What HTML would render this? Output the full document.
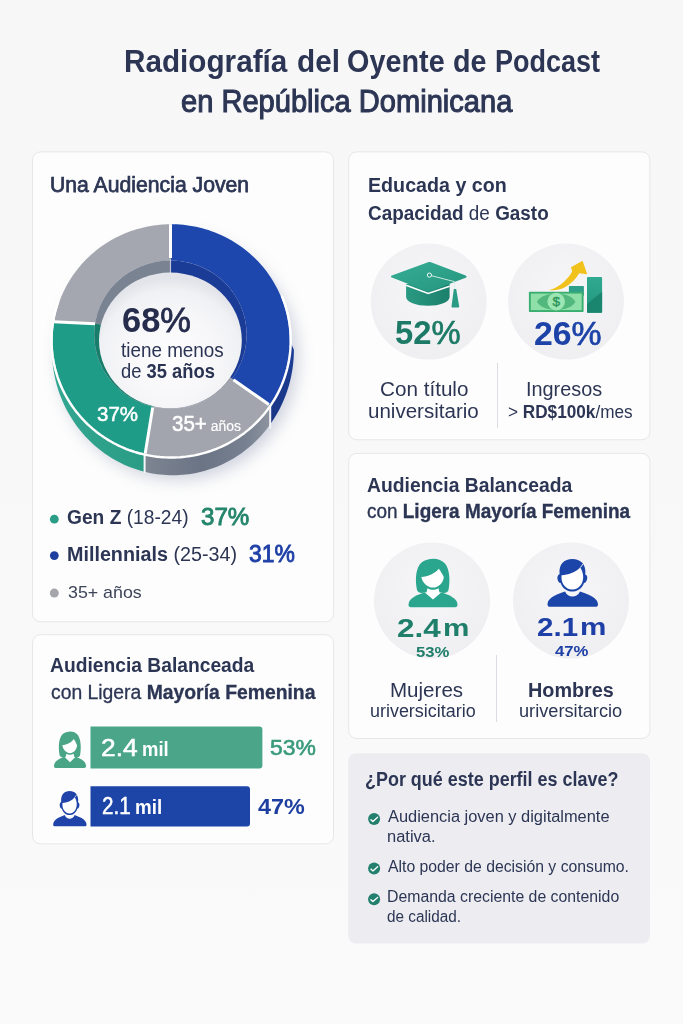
<!DOCTYPE html>
<html><head><meta charset="utf-8"><style>
html,body{margin:0;padding:0;}
body{width:683px;height:1024px;overflow:hidden;background:linear-gradient(#f7f7f8,#f8f8f9 40%,#fafafb);position:relative;font-family:"Liberation Sans",sans-serif;}
svg.bg{position:absolute;left:0;top:0;}
.t{position:absolute;white-space:nowrap;line-height:1;transform-origin:0 0;}
</style></head><body>
<svg class="bg" width="683" height="1024" viewBox="0 0 683 1024">
<rect x="32.50" y="151.90" width="301.00" height="469.90" rx="8" fill="#fdfdfd" stroke="#e6e7eb" stroke-width="1"/>
<rect x="32.50" y="634.70" width="301.00" height="209.20" rx="8" fill="#fdfdfd" stroke="#e6e7eb" stroke-width="1"/>
<rect x="348.70" y="151.90" width="301.20" height="287.90" rx="8" fill="#fdfdfd" stroke="#e6e7eb" stroke-width="1"/>
<rect x="348.70" y="453.40" width="301.20" height="285.10" rx="8" fill="#fdfdfd" stroke="#e6e7eb" stroke-width="1"/>
<rect x="348.2" y="753.2" width="301.8" height="190.3" rx="8" fill="#ededf1"/>
<defs>
<filter id="dsh" x="-40%" y="-40%" width="180%" height="180%"><feGaussianBlur stdDeviation="8"/></filter>
<clipPath id="innclip"><ellipse cx="170.40" cy="334.60" rx="76.20" ry="74.10"/></clipPath>
<clipPath id="cgreen"><rect x="0" y="330" width="144.6" height="200"/></clipPath>
<clipPath id="cgray"><rect x="144.6" y="330" width="125.6" height="200"/></clipPath>
<clipPath id="cblue"><rect x="270.2" y="200" width="100" height="330"/></clipPath>
<radialGradient id="holeg" cx="50%" cy="62%" r="58%"><stop offset="0" stop-color="#fdfdfe"/><stop offset="0.55" stop-color="#f7f7f9"/><stop offset="0.85" stop-color="#f0f1f4"/><stop offset="1" stop-color="#e2e4ea"/></radialGradient>
<linearGradient id="sgreen" x1="0" y1="0" x2="1" y2="0"><stop offset="0" stop-color="#33a792"/><stop offset="0.6" stop-color="#25967f"/><stop offset="1" stop-color="#1c8b76"/></linearGradient>
<linearGradient id="sgray" gradientUnits="userSpaceOnUse" x1="144.6" y1="0" x2="270.2" y2="0"><stop offset="0" stop-color="#7d8592"/><stop offset="0.45" stop-color="#6b7485"/><stop offset="0.8" stop-color="#768090"/><stop offset="1" stop-color="#8e949f"/></linearGradient>
<linearGradient id="sblue" x1="0" y1="0" x2="0" y2="1"><stop offset="0" stop-color="#1c3d97"/><stop offset="1" stop-color="#17307a"/></linearGradient>
</defs>
<ellipse cx="178.0" cy="358.0" rx="120.0" ry="122.0" fill="#7d86a6" opacity="0.36" filter="url(#dsh)"/>
<path d="M293.90,349.75 L293.86,353.04 L293.73,356.32 L293.53,359.60 L293.24,362.87 L292.86,366.13 L292.41,369.38 L291.87,372.62 L291.26,375.84 L290.56,379.05 L289.78,382.23 L288.92,385.39 L287.98,388.53 L286.96,391.64 L285.86,394.73 L284.69,397.78 L283.44,400.80 L282.11,403.78 L280.71,406.73 L279.24,409.63 L277.69,412.50 L276.07,415.32 L274.38,418.10 L272.62,420.83 L270.79,423.52 L268.90,426.15 L266.93,428.73 L264.91,431.26 L262.82,433.73 L260.67,436.14 L258.46,438.49 L256.19,440.78 L253.86,443.01 L251.48,445.18 L249.05,447.28 L246.56,449.32 L244.02,451.28 L241.44,453.18 L238.80,455.00 L236.12,456.76 L233.40,458.44 L230.64,460.04 L227.83,461.57 L224.99,463.02 L222.12,464.40 L219.20,465.70 L216.26,466.91 L213.29,468.05 L210.29,469.11 L207.27,470.08 L204.22,470.97 L201.15,471.78 L198.06,472.51 L194.95,473.15 L191.83,473.70 L188.69,474.18 L185.55,474.56 L182.39,474.86 L179.23,475.08 L176.07,475.21 L172.90,475.25 L169.73,475.21 L166.57,475.08 L163.41,474.86 L160.25,474.56 L157.11,474.18 L153.97,473.70 L150.85,473.15 L147.74,472.51 L144.65,471.78 L141.58,470.97 L138.53,470.08 L135.51,469.11 L132.51,468.05 L129.54,466.91 L126.60,465.70 L123.68,464.40 L120.81,463.02 L117.97,461.57 L115.16,460.04 L112.40,458.44 L109.68,456.76 L107.00,455.00 L104.36,453.18 L101.78,451.28 L99.24,449.32 L96.75,447.28 L94.32,445.18 L91.94,443.01 L89.61,440.78 L87.34,438.49 L85.13,436.14 L82.98,433.73 L80.89,431.26 L78.87,428.73 L76.90,426.15 L75.01,423.52 L73.18,420.83 L71.42,418.10 L69.73,415.32 L68.11,412.50 L66.56,409.63 L65.09,406.73 L63.69,403.78 L62.36,400.80 L61.11,397.78 L59.94,394.73 L58.84,391.64 L57.82,388.53 L56.88,385.39 L56.02,382.23 L55.24,379.05 L54.54,375.84 L53.93,372.62 L53.39,369.38 L52.94,366.13 L52.56,362.87 L52.27,359.60 L52.07,356.32 L51.94,353.04 L51.90,349.75 L52.65,340.33 L52.69,343.37 L52.81,346.41 L53.02,349.44 L53.30,352.47 L53.66,355.48 L54.11,358.49 L54.63,361.49 L55.24,364.47 L55.92,367.43 L56.69,370.38 L57.53,373.30 L58.45,376.21 L59.45,379.08 L60.52,381.94 L61.67,384.76 L62.89,387.55 L64.19,390.31 L65.57,393.04 L67.01,395.73 L68.53,398.38 L70.11,400.99 L71.77,403.56 L73.49,406.09 L75.28,408.57 L77.14,411.01 L79.06,413.39 L81.04,415.73 L83.09,418.02 L85.19,420.25 L87.36,422.43 L89.58,424.55 L91.86,426.61 L94.19,428.61 L96.58,430.56 L99.01,432.44 L101.50,434.26 L104.03,436.01 L106.61,437.70 L109.23,439.32 L111.90,440.88 L114.61,442.36 L117.35,443.78 L120.13,445.12 L122.95,446.39 L125.80,447.59 L128.68,448.72 L131.59,449.77 L134.53,450.75 L137.49,451.65 L140.48,452.47 L143.49,453.22 L146.51,453.89 L149.56,454.49 L152.61,455.00 L155.68,455.44 L158.76,455.79 L161.85,456.07 L164.95,456.27 L168.05,456.39 L171.15,456.43 L174.25,456.39 L177.35,456.27 L180.45,456.07 L183.54,455.79 L186.62,455.44 L189.69,455.00 L192.74,454.49 L195.79,453.89 L198.81,453.22 L201.82,452.47 L204.81,451.65 L207.77,450.75 L210.71,449.77 L213.62,448.72 L216.50,447.59 L219.35,446.39 L222.17,445.12 L224.95,443.78 L227.69,442.36 L230.40,440.88 L233.07,439.32 L235.69,437.70 L238.27,436.01 L240.80,434.26 L243.29,432.44 L245.72,430.56 L248.11,428.61 L250.44,426.61 L252.72,424.55 L254.94,422.43 L257.11,420.25 L259.21,418.02 L261.26,415.73 L263.24,413.39 L265.16,411.01 L267.02,408.57 L268.81,406.09 L270.53,403.56 L272.19,400.99 L273.77,398.38 L275.29,395.73 L276.73,393.04 L278.11,390.31 L279.41,387.55 L280.63,384.76 L281.78,381.94 L282.85,379.08 L283.85,376.21 L284.77,373.30 L285.61,370.38 L286.38,367.43 L287.06,364.47 L287.67,361.49 L288.19,358.49 L288.64,355.48 L289.00,352.47 L289.28,349.44 L289.49,346.41 L289.61,343.37 L289.65,340.33 Z" fill="url(#sgreen)" clip-path="url(#cgreen)"/>
<path d="M293.90,349.75 L293.86,353.04 L293.73,356.32 L293.53,359.60 L293.24,362.87 L292.86,366.13 L292.41,369.38 L291.87,372.62 L291.26,375.84 L290.56,379.05 L289.78,382.23 L288.92,385.39 L287.98,388.53 L286.96,391.64 L285.86,394.73 L284.69,397.78 L283.44,400.80 L282.11,403.78 L280.71,406.73 L279.24,409.63 L277.69,412.50 L276.07,415.32 L274.38,418.10 L272.62,420.83 L270.79,423.52 L268.90,426.15 L266.93,428.73 L264.91,431.26 L262.82,433.73 L260.67,436.14 L258.46,438.49 L256.19,440.78 L253.86,443.01 L251.48,445.18 L249.05,447.28 L246.56,449.32 L244.02,451.28 L241.44,453.18 L238.80,455.00 L236.12,456.76 L233.40,458.44 L230.64,460.04 L227.83,461.57 L224.99,463.02 L222.12,464.40 L219.20,465.70 L216.26,466.91 L213.29,468.05 L210.29,469.11 L207.27,470.08 L204.22,470.97 L201.15,471.78 L198.06,472.51 L194.95,473.15 L191.83,473.70 L188.69,474.18 L185.55,474.56 L182.39,474.86 L179.23,475.08 L176.07,475.21 L172.90,475.25 L169.73,475.21 L166.57,475.08 L163.41,474.86 L160.25,474.56 L157.11,474.18 L153.97,473.70 L150.85,473.15 L147.74,472.51 L144.65,471.78 L141.58,470.97 L138.53,470.08 L135.51,469.11 L132.51,468.05 L129.54,466.91 L126.60,465.70 L123.68,464.40 L120.81,463.02 L117.97,461.57 L115.16,460.04 L112.40,458.44 L109.68,456.76 L107.00,455.00 L104.36,453.18 L101.78,451.28 L99.24,449.32 L96.75,447.28 L94.32,445.18 L91.94,443.01 L89.61,440.78 L87.34,438.49 L85.13,436.14 L82.98,433.73 L80.89,431.26 L78.87,428.73 L76.90,426.15 L75.01,423.52 L73.18,420.83 L71.42,418.10 L69.73,415.32 L68.11,412.50 L66.56,409.63 L65.09,406.73 L63.69,403.78 L62.36,400.80 L61.11,397.78 L59.94,394.73 L58.84,391.64 L57.82,388.53 L56.88,385.39 L56.02,382.23 L55.24,379.05 L54.54,375.84 L53.93,372.62 L53.39,369.38 L52.94,366.13 L52.56,362.87 L52.27,359.60 L52.07,356.32 L51.94,353.04 L51.90,349.75 L52.65,340.33 L52.69,343.37 L52.81,346.41 L53.02,349.44 L53.30,352.47 L53.66,355.48 L54.11,358.49 L54.63,361.49 L55.24,364.47 L55.92,367.43 L56.69,370.38 L57.53,373.30 L58.45,376.21 L59.45,379.08 L60.52,381.94 L61.67,384.76 L62.89,387.55 L64.19,390.31 L65.57,393.04 L67.01,395.73 L68.53,398.38 L70.11,400.99 L71.77,403.56 L73.49,406.09 L75.28,408.57 L77.14,411.01 L79.06,413.39 L81.04,415.73 L83.09,418.02 L85.19,420.25 L87.36,422.43 L89.58,424.55 L91.86,426.61 L94.19,428.61 L96.58,430.56 L99.01,432.44 L101.50,434.26 L104.03,436.01 L106.61,437.70 L109.23,439.32 L111.90,440.88 L114.61,442.36 L117.35,443.78 L120.13,445.12 L122.95,446.39 L125.80,447.59 L128.68,448.72 L131.59,449.77 L134.53,450.75 L137.49,451.65 L140.48,452.47 L143.49,453.22 L146.51,453.89 L149.56,454.49 L152.61,455.00 L155.68,455.44 L158.76,455.79 L161.85,456.07 L164.95,456.27 L168.05,456.39 L171.15,456.43 L174.25,456.39 L177.35,456.27 L180.45,456.07 L183.54,455.79 L186.62,455.44 L189.69,455.00 L192.74,454.49 L195.79,453.89 L198.81,453.22 L201.82,452.47 L204.81,451.65 L207.77,450.75 L210.71,449.77 L213.62,448.72 L216.50,447.59 L219.35,446.39 L222.17,445.12 L224.95,443.78 L227.69,442.36 L230.40,440.88 L233.07,439.32 L235.69,437.70 L238.27,436.01 L240.80,434.26 L243.29,432.44 L245.72,430.56 L248.11,428.61 L250.44,426.61 L252.72,424.55 L254.94,422.43 L257.11,420.25 L259.21,418.02 L261.26,415.73 L263.24,413.39 L265.16,411.01 L267.02,408.57 L268.81,406.09 L270.53,403.56 L272.19,400.99 L273.77,398.38 L275.29,395.73 L276.73,393.04 L278.11,390.31 L279.41,387.55 L280.63,384.76 L281.78,381.94 L282.85,379.08 L283.85,376.21 L284.77,373.30 L285.61,370.38 L286.38,367.43 L287.06,364.47 L287.67,361.49 L288.19,358.49 L288.64,355.48 L289.00,352.47 L289.28,349.44 L289.49,346.41 L289.61,343.37 L289.65,340.33 Z" fill="url(#sgray)" clip-path="url(#cgray)"/>
<path d="M293.90,349.75 L293.86,353.04 L293.73,356.32 L293.53,359.60 L293.24,362.87 L292.86,366.13 L292.41,369.38 L291.87,372.62 L291.26,375.84 L290.56,379.05 L289.78,382.23 L288.92,385.39 L287.98,388.53 L286.96,391.64 L285.86,394.73 L284.69,397.78 L283.44,400.80 L282.11,403.78 L280.71,406.73 L279.24,409.63 L277.69,412.50 L276.07,415.32 L274.38,418.10 L272.62,420.83 L270.79,423.52 L268.90,426.15 L266.93,428.73 L264.91,431.26 L262.82,433.73 L260.67,436.14 L258.46,438.49 L256.19,440.78 L253.86,443.01 L251.48,445.18 L249.05,447.28 L246.56,449.32 L244.02,451.28 L241.44,453.18 L238.80,455.00 L236.12,456.76 L233.40,458.44 L230.64,460.04 L227.83,461.57 L224.99,463.02 L222.12,464.40 L219.20,465.70 L216.26,466.91 L213.29,468.05 L210.29,469.11 L207.27,470.08 L204.22,470.97 L201.15,471.78 L198.06,472.51 L194.95,473.15 L191.83,473.70 L188.69,474.18 L185.55,474.56 L182.39,474.86 L179.23,475.08 L176.07,475.21 L172.90,475.25 L169.73,475.21 L166.57,475.08 L163.41,474.86 L160.25,474.56 L157.11,474.18 L153.97,473.70 L150.85,473.15 L147.74,472.51 L144.65,471.78 L141.58,470.97 L138.53,470.08 L135.51,469.11 L132.51,468.05 L129.54,466.91 L126.60,465.70 L123.68,464.40 L120.81,463.02 L117.97,461.57 L115.16,460.04 L112.40,458.44 L109.68,456.76 L107.00,455.00 L104.36,453.18 L101.78,451.28 L99.24,449.32 L96.75,447.28 L94.32,445.18 L91.94,443.01 L89.61,440.78 L87.34,438.49 L85.13,436.14 L82.98,433.73 L80.89,431.26 L78.87,428.73 L76.90,426.15 L75.01,423.52 L73.18,420.83 L71.42,418.10 L69.73,415.32 L68.11,412.50 L66.56,409.63 L65.09,406.73 L63.69,403.78 L62.36,400.80 L61.11,397.78 L59.94,394.73 L58.84,391.64 L57.82,388.53 L56.88,385.39 L56.02,382.23 L55.24,379.05 L54.54,375.84 L53.93,372.62 L53.39,369.38 L52.94,366.13 L52.56,362.87 L52.27,359.60 L52.07,356.32 L51.94,353.04 L51.90,349.75 L52.65,340.33 L52.69,343.37 L52.81,346.41 L53.02,349.44 L53.30,352.47 L53.66,355.48 L54.11,358.49 L54.63,361.49 L55.24,364.47 L55.92,367.43 L56.69,370.38 L57.53,373.30 L58.45,376.21 L59.45,379.08 L60.52,381.94 L61.67,384.76 L62.89,387.55 L64.19,390.31 L65.57,393.04 L67.01,395.73 L68.53,398.38 L70.11,400.99 L71.77,403.56 L73.49,406.09 L75.28,408.57 L77.14,411.01 L79.06,413.39 L81.04,415.73 L83.09,418.02 L85.19,420.25 L87.36,422.43 L89.58,424.55 L91.86,426.61 L94.19,428.61 L96.58,430.56 L99.01,432.44 L101.50,434.26 L104.03,436.01 L106.61,437.70 L109.23,439.32 L111.90,440.88 L114.61,442.36 L117.35,443.78 L120.13,445.12 L122.95,446.39 L125.80,447.59 L128.68,448.72 L131.59,449.77 L134.53,450.75 L137.49,451.65 L140.48,452.47 L143.49,453.22 L146.51,453.89 L149.56,454.49 L152.61,455.00 L155.68,455.44 L158.76,455.79 L161.85,456.07 L164.95,456.27 L168.05,456.39 L171.15,456.43 L174.25,456.39 L177.35,456.27 L180.45,456.07 L183.54,455.79 L186.62,455.44 L189.69,455.00 L192.74,454.49 L195.79,453.89 L198.81,453.22 L201.82,452.47 L204.81,451.65 L207.77,450.75 L210.71,449.77 L213.62,448.72 L216.50,447.59 L219.35,446.39 L222.17,445.12 L224.95,443.78 L227.69,442.36 L230.40,440.88 L233.07,439.32 L235.69,437.70 L238.27,436.01 L240.80,434.26 L243.29,432.44 L245.72,430.56 L248.11,428.61 L250.44,426.61 L252.72,424.55 L254.94,422.43 L257.11,420.25 L259.21,418.02 L261.26,415.73 L263.24,413.39 L265.16,411.01 L267.02,408.57 L268.81,406.09 L270.53,403.56 L272.19,400.99 L273.77,398.38 L275.29,395.73 L276.73,393.04 L278.11,390.31 L279.41,387.55 L280.63,384.76 L281.78,381.94 L282.85,379.08 L283.85,376.21 L284.77,373.30 L285.61,370.38 L286.38,367.43 L287.06,364.47 L287.67,361.49 L288.19,358.49 L288.64,355.48 L289.00,352.47 L289.28,349.44 L289.49,346.41 L289.61,343.37 L289.65,340.33 Z" fill="url(#sblue)" clip-path="url(#cblue)"/>
<line x1="270.2" y1="404" x2="270.2" y2="428.5" stroke="#f4f5f8" stroke-width="2"/>
<line x1="144.6" y1="453" x2="144.6" y2="473" stroke="#f4f5f8" stroke-width="2"/>
<path d="M170.50,224.23 L173.71,224.26 L176.92,224.37 L180.12,224.56 L183.32,224.84 L186.51,225.21 L189.69,225.66 L192.85,226.19 L196.00,226.81 L199.13,227.51 L202.24,228.30 L205.32,229.16 L208.38,230.11 L211.42,231.14 L214.42,232.25 L217.39,233.44 L220.33,234.70 L223.23,236.05 L226.10,237.47 L228.92,238.96 L231.70,240.53 L234.44,242.18 L237.13,243.89 L239.77,245.68 L242.37,247.53 L244.90,249.46 L247.39,251.45 L249.82,253.51 L252.19,255.63 L254.50,257.81 L256.75,260.05 L258.94,262.35 L261.07,264.71 L263.12,267.12 L265.11,269.59 L267.04,272.11 L268.89,274.68 L270.67,277.30 L272.37,279.96 L274.00,282.67 L275.56,285.42 L277.04,288.21 L278.44,291.04 L279.77,293.91 L281.01,296.81 L282.17,299.74 L283.25,302.70 L284.25,305.69 L285.17,308.71 L286.00,311.74 L286.75,314.80 L287.41,317.88 L287.99,320.97 L288.48,324.08 L288.89,327.20 L289.21,330.33 L289.44,333.47 L289.59,336.61 L289.65,339.75 L289.62,342.90 L289.51,346.04 L289.31,349.18 L289.02,352.31 L288.64,355.44 L288.18,358.55 L287.63,361.65 L287.00,364.73 L286.29,367.80 L285.48,370.84 L284.60,373.87 L283.63,376.87 L282.58,379.84 L281.44,382.78 L280.23,385.69 L278.94,388.57 L277.56,391.41 L276.11,394.22 L274.58,396.99 L272.98,399.71 L271.30,402.39 L269.55,405.03 L231.72,378.59 L232.94,376.93 L234.12,375.24 L235.24,373.52 L236.32,371.76 L237.35,369.98 L238.33,368.18 L239.25,366.34 L240.13,364.48 L240.95,362.60 L241.72,360.70 L242.43,358.78 L243.09,356.84 L243.69,354.89 L244.24,352.91 L244.73,350.93 L245.16,348.93 L245.54,346.92 L245.86,344.90 L246.12,342.88 L246.33,340.84 L246.48,338.81 L246.57,336.76 L246.60,334.72 L246.57,332.68 L246.49,330.64 L246.35,328.60 L246.15,326.57 L245.89,324.54 L245.58,322.52 L245.21,320.51 L244.78,318.51 L244.30,316.52 L243.76,314.55 L243.16,312.59 L242.51,310.65 L241.80,308.73 L241.04,306.82 L240.23,304.94 L239.36,303.08 L238.44,301.24 L237.47,299.43 L236.45,297.65 L235.38,295.89 L234.26,294.17 L233.08,292.47 L231.87,290.81 L230.60,289.17 L229.29,287.58 L227.94,286.02 L226.54,284.49 L225.10,283.01 L223.61,281.56 L222.09,280.16 L220.53,278.79 L218.93,277.47 L217.29,276.19 L215.62,274.96 L213.91,273.77 L212.17,272.62 L210.40,271.53 L208.59,270.48 L206.76,269.48 L204.90,268.53 L203.02,267.63 L201.10,266.78 L199.17,265.98 L197.22,265.24 L195.24,264.55 L193.24,263.91 L191.23,263.32 L189.20,262.79 L187.16,262.32 L185.11,261.89 L183.04,261.53 L180.96,261.22 L178.88,260.96 L176.79,260.76 L174.70,260.62 L172.60,260.53 L170.50,260.50 Z" fill="#1e47ae"/>
<path d="M269.55,405.03 L268.54,406.46 L267.52,407.89 L266.48,409.30 L265.41,410.69 L264.32,412.07 L263.21,413.43 L262.08,414.78 L260.93,416.11 L259.76,417.42 L258.57,418.71 L257.36,419.99 L256.13,421.25 L254.88,422.49 L253.61,423.71 L252.33,424.91 L251.02,426.09 L249.70,427.26 L248.36,428.40 L247.00,429.53 L245.63,430.63 L244.23,431.72 L242.83,432.78 L241.40,433.83 L239.96,434.85 L238.51,435.85 L237.04,436.83 L235.55,437.79 L234.05,438.72 L232.54,439.64 L231.01,440.53 L229.47,441.40 L227.91,442.24 L226.35,443.07 L224.77,443.87 L223.17,444.64 L221.57,445.40 L219.96,446.13 L218.33,446.83 L216.69,447.51 L215.05,448.17 L213.39,448.80 L211.72,449.41 L210.05,450.00 L208.36,450.56 L206.67,451.09 L204.97,451.60 L203.26,452.09 L201.55,452.55 L199.83,452.98 L198.10,453.39 L196.36,453.77 L194.62,454.13 L192.88,454.46 L191.13,454.77 L189.37,455.05 L187.61,455.30 L185.85,455.53 L184.08,455.74 L182.31,455.91 L180.54,456.06 L178.77,456.19 L176.99,456.29 L175.22,456.36 L173.44,456.41 L171.66,456.43 L169.88,456.42 L168.10,456.39 L166.33,456.33 L164.55,456.25 L162.78,456.14 L161.00,456.00 L159.23,455.84 L157.46,455.65 L155.70,455.44 L153.94,455.20 L152.18,454.93 L150.43,454.64 L148.68,454.32 L146.94,453.98 L145.20,453.61 L152.91,406.72 L154.00,406.96 L155.08,407.19 L156.17,407.40 L157.27,407.59 L158.36,407.77 L159.46,407.93 L160.56,408.08 L161.67,408.21 L162.77,408.33 L163.88,408.43 L164.98,408.51 L166.09,408.58 L167.20,408.63 L168.31,408.67 L169.42,408.69 L170.54,408.70 L171.65,408.69 L172.76,408.66 L173.87,408.62 L174.98,408.57 L176.09,408.49 L177.19,408.40 L178.30,408.30 L179.41,408.18 L180.51,408.05 L181.61,407.89 L182.71,407.73 L183.80,407.54 L184.89,407.35 L185.98,407.13 L187.07,406.91 L188.15,406.66 L189.23,406.40 L190.31,406.13 L191.38,405.84 L192.44,405.53 L193.50,405.21 L194.56,404.88 L195.61,404.53 L196.66,404.16 L197.70,403.78 L198.73,403.39 L199.76,402.98 L200.78,402.55 L201.80,402.12 L202.81,401.66 L203.81,401.20 L204.81,400.72 L205.79,400.22 L206.77,399.71 L207.75,399.19 L208.71,398.65 L209.67,398.10 L210.62,397.54 L211.56,396.96 L212.49,396.37 L213.41,395.77 L214.32,395.15 L215.22,394.52 L216.12,393.88 L217.00,393.23 L217.88,392.56 L218.74,391.88 L219.59,391.19 L220.44,390.48 L221.27,389.77 L222.09,389.04 L222.90,388.30 L223.70,387.55 L224.49,386.79 L225.27,386.02 L226.03,385.23 L226.79,384.44 L227.53,383.64 L228.26,382.82 L228.98,381.99 L229.68,381.16 L230.37,380.31 L231.05,379.46 L231.72,378.59 Z" fill="#a2a5ad"/>
<path d="M145.20,453.61 L143.02,453.11 L140.85,452.57 L138.69,451.99 L136.55,451.37 L134.42,450.71 L132.30,450.01 L130.19,449.27 L128.10,448.50 L126.02,447.68 L123.96,446.83 L121.92,445.94 L119.89,445.01 L117.88,444.04 L115.89,443.04 L113.93,442.00 L111.98,440.92 L110.05,439.81 L108.14,438.66 L106.26,437.48 L104.40,436.26 L102.56,435.01 L100.75,433.72 L98.97,432.40 L97.20,431.05 L95.47,429.67 L93.76,428.25 L92.08,426.81 L90.43,425.33 L88.81,423.82 L87.21,422.28 L85.65,420.72 L84.11,419.12 L82.61,417.50 L81.14,415.84 L79.70,414.17 L78.30,412.46 L76.92,410.73 L75.58,408.98 L74.28,407.20 L73.01,405.39 L71.77,403.57 L70.57,401.72 L69.40,399.85 L68.28,397.95 L67.18,396.04 L66.13,394.11 L65.11,392.16 L64.13,390.19 L63.19,388.20 L62.29,386.19 L61.42,384.17 L60.60,382.13 L59.81,380.08 L59.07,378.02 L58.36,375.94 L57.69,373.84 L57.07,371.74 L56.48,369.62 L55.94,367.50 L55.44,365.36 L54.98,363.22 L54.56,361.07 L54.18,358.91 L53.84,356.74 L53.54,354.57 L53.29,352.39 L53.08,350.21 L52.91,348.02 L52.78,345.83 L52.70,343.64 L52.66,341.45 L52.66,339.26 L52.70,337.07 L52.78,334.88 L52.91,332.69 L53.08,330.50 L53.29,328.32 L53.54,326.15 L53.83,323.97 L54.17,321.81 L95.03,323.70 L94.83,325.07 L94.66,326.44 L94.52,327.81 L94.40,329.18 L94.31,330.55 L94.25,331.93 L94.21,333.30 L94.20,334.68 L94.21,336.06 L94.26,337.44 L94.32,338.81 L94.42,340.19 L94.54,341.56 L94.68,342.93 L94.85,344.29 L95.05,345.66 L95.28,347.02 L95.53,348.37 L95.80,349.72 L96.11,351.07 L96.43,352.41 L96.79,353.74 L97.17,355.07 L97.57,356.39 L98.00,357.70 L98.45,359.01 L98.93,360.30 L99.43,361.59 L99.96,362.87 L100.51,364.14 L101.09,365.39 L101.69,366.64 L102.32,367.88 L102.96,369.10 L103.63,370.31 L104.33,371.51 L105.05,372.70 L105.79,373.88 L106.55,375.04 L107.33,376.18 L108.14,377.32 L108.96,378.44 L109.81,379.54 L110.68,380.63 L111.57,381.70 L112.48,382.75 L113.41,383.79 L114.36,384.81 L115.33,385.82 L116.32,386.80 L117.33,387.77 L118.35,388.72 L119.39,389.65 L120.46,390.56 L121.53,391.46 L122.63,392.33 L123.74,393.18 L124.87,394.02 L126.01,394.83 L127.17,395.62 L128.34,396.39 L129.53,397.14 L130.73,397.87 L131.95,398.57 L133.18,399.26 L134.42,399.92 L135.68,400.56 L136.94,401.17 L138.22,401.77 L139.51,402.34 L140.81,402.88 L142.12,403.41 L143.44,403.91 L144.77,404.38 L146.11,404.83 L147.45,405.26 L148.81,405.66 L150.17,406.04 L151.54,406.39 L152.91,406.72 Z" fill="#1e9c88"/>
<path d="M54.17,321.81 L54.52,319.80 L54.90,317.79 L55.33,315.80 L55.78,313.81 L56.28,311.83 L56.81,309.85 L57.37,307.89 L57.97,305.94 L58.60,304.00 L59.27,302.06 L59.97,300.15 L60.71,298.24 L61.48,296.34 L62.29,294.46 L63.13,292.60 L64.00,290.75 L64.91,288.91 L65.84,287.09 L66.81,285.29 L67.82,283.50 L68.85,281.73 L69.92,279.98 L71.02,278.25 L72.14,276.53 L73.30,274.84 L74.49,273.17 L75.71,271.51 L76.96,269.88 L78.24,268.27 L79.54,266.68 L80.88,265.12 L82.24,263.58 L83.63,262.06 L85.04,260.57 L86.49,259.10 L87.96,257.65 L89.45,256.23 L90.97,254.84 L92.52,253.47 L94.09,252.13 L95.68,250.82 L97.29,249.54 L98.93,248.28 L100.59,247.05 L102.28,245.85 L103.98,244.68 L105.71,243.54 L107.45,242.43 L109.22,241.35 L111.00,240.30 L112.80,239.28 L114.62,238.29 L116.46,237.33 L118.32,236.41 L120.19,235.52 L122.07,234.65 L123.98,233.83 L125.89,233.03 L127.82,232.27 L129.77,231.54 L131.72,230.84 L133.69,230.18 L135.67,229.56 L137.66,228.96 L139.66,228.40 L141.68,227.88 L143.70,227.39 L145.72,226.93 L147.76,226.51 L149.80,226.13 L151.86,225.78 L153.91,225.47 L155.97,225.19 L158.04,224.94 L160.11,224.73 L162.18,224.56 L164.26,224.43 L166.34,224.33 L168.42,224.26 L170.50,224.23 L170.50,260.50 L169.14,260.51 L167.78,260.54 L166.43,260.60 L165.07,260.68 L163.72,260.79 L162.37,260.91 L161.02,261.06 L159.68,261.24 L158.34,261.43 L157.00,261.65 L155.67,261.90 L154.34,262.17 L153.01,262.45 L151.69,262.77 L150.38,263.10 L149.08,263.46 L147.78,263.84 L146.48,264.24 L145.20,264.67 L143.92,265.12 L142.66,265.59 L141.40,266.08 L140.15,266.59 L138.91,267.12 L137.68,267.68 L136.46,268.26 L135.25,268.86 L134.05,269.48 L132.86,270.12 L131.69,270.78 L130.52,271.46 L129.37,272.16 L128.24,272.88 L127.11,273.62 L126.00,274.38 L124.91,275.15 L123.83,275.95 L122.76,276.77 L121.71,277.60 L120.67,278.45 L119.65,279.32 L118.65,280.21 L117.66,281.11 L116.69,282.04 L115.74,282.97 L114.80,283.93 L113.88,284.90 L112.98,285.89 L112.10,286.89 L111.23,287.91 L110.39,288.94 L109.56,289.98 L108.75,291.04 L107.97,292.12 L107.20,293.21 L106.45,294.31 L105.72,295.42 L105.02,296.55 L104.33,297.68 L103.66,298.83 L103.02,300.00 L102.40,301.17 L101.80,302.35 L101.22,303.54 L100.66,304.75 L100.12,305.96 L99.61,307.18 L99.12,308.41 L98.65,309.65 L98.20,310.89 L97.78,312.15 L97.38,313.41 L97.01,314.68 L96.65,315.95 L96.32,317.23 L96.02,318.52 L95.73,319.81 L95.48,321.10 L95.24,322.40 L95.03,323.70 Z" fill="#a4a7af"/>
<path d="M282.04,296.43 L283.09,299.06 L284.07,301.71 L284.99,304.39 L285.84,307.09 L286.62,309.81 L287.34,312.55 L287.99,315.30 L288.57,318.07 L289.09,320.85 L289.53,323.64 L289.91,326.44 L290.21,329.25 L290.45,332.07 L290.62,334.89 L290.72,337.71 L290.75,340.53 L290.71,343.36 L290.60,346.18 L290.42,349.00 L290.17,351.82 L289.86,354.63 L289.47,357.43 L289.02,360.22 L288.49,362.99 L287.90,365.76 L287.24,368.51 L286.51,371.24 L285.72,373.96 L284.86,376.66 L283.93,379.33 L282.94,381.98 L281.88,384.61 L280.76,387.22 L279.58,389.79 L278.33,392.34 L277.02,394.85 L275.65,397.34 L274.21,399.79 L272.72,402.21 L271.17,404.59 L269.56,406.93 L267.89,409.24 L266.17,411.50 L264.39,413.73 L262.56,415.91 L260.67,418.05 L258.74,420.14 L256.75,422.18 L254.71,424.18 L252.62,426.13 L250.49,428.03 L248.31,429.88 L246.08,431.68 L243.81,433.42 L241.50,435.11 L239.15,436.74 L236.76,438.32 L234.33,439.84 L231.86,441.31 L229.36,442.71 L226.83,444.06 L224.26,445.34 L221.66,446.57 L219.03,447.73 L216.38,448.83 L213.69,449.86 L210.99,450.84 L208.26,451.75 L205.51,452.59 L202.73,453.37 L199.94,454.08 L197.14,454.73 L194.32,455.31 L191.48,455.82 L188.63,456.27 L185.78,456.65 L182.91,456.96 L180.04,457.21 L177.16,457.38 L174.28,457.49 L171.40,457.53 L168.51,457.50 L165.63,457.41 L162.76,457.24 L159.88,457.01 L157.01,456.71 L154.16,456.34 L151.31,455.91 L148.47,455.40 L145.65,454.83 L142.84,454.20 L140.04,453.50 L137.27,452.73 L134.51,451.90 L131.78,451.00 L129.07,450.04 L126.38,449.01 L123.72,447.92 L121.09,446.77 L118.49,445.56 L115.91,444.28 L113.37,442.95 L110.86,441.55 L108.39,440.10 L105.96,438.59 L103.56,437.02 L101.20,435.39 L98.88,433.71 L96.61,431.98 L94.37,430.19 L92.18,428.35 L90.04,426.46 L87.95,424.52 L85.90,422.53 L83.90,420.49 L81.96,418.41 L80.06,416.28 L78.22,414.11 L76.43,411.89 L74.70,409.63 L73.02,407.33 L71.40,405.00 L69.84,402.62 L68.34,400.21 L66.90,397.76 L65.51,395.28 L64.19,392.77 L62.93,390.23 L61.74,387.66 L60.60,385.06 L59.54,382.44 L58.53,379.79 L57.59,377.12 L56.72,374.42 L55.92,371.71 L55.18,368.98 L54.51,366.23 L53.90,363.47 L53.37,360.69 L52.90,357.91 L52.50,355.11 L52.18,352.30 L51.92,349.49 L51.73,346.67 L51.60,343.85 L51.55,341.02 L51.57,338.20 L51.66,335.37 L51.81,332.55 L52.04,329.73 L52.34,326.92 L52.70,324.12 L53.13,321.33 L53.63,318.54 L54.20,315.78 L54.84,313.02 L55.55,310.28 L56.32,307.56 L57.16,304.86 L58.07,302.17" fill="none" stroke="#ffffff" stroke-width="2.4" stroke-linecap="round"/>
<g clip-path="url(#innclip)">
<path d="M170.40,334.60 L170.56,214.60 L177.13,214.79 L183.68,215.34 L190.19,216.24 L196.64,217.51 L203.02,219.12 L209.29,221.08 L215.45,223.38 L221.48,226.01 L227.35,228.97 L233.05,232.25 L238.56,235.84 L243.87,239.72 L248.95,243.88 L253.80,248.32 L258.40,253.02 L262.74,257.96 L266.80,263.13 L270.57,268.52 L274.04,274.11 L277.19,279.87 L280.03,285.80 L282.54,291.88 L284.71,298.09 L286.54,304.40 L288.02,310.81 L289.14,317.29 L289.91,323.81 L290.33,330.38 L290.38,336.95 L290.07,343.52 L289.40,350.06 L288.37,356.55 L287.00,362.98 L285.27,369.32 L283.19,375.56 L280.78,381.68 L278.03,387.65 L274.97,393.47 L271.59,399.11 L267.90,404.55 Z" fill="#1a3b96"/>
<path d="M170.40,334.60 L267.90,404.55 L265.78,407.41 L263.58,410.21 L261.30,412.94 L258.94,415.60 L256.50,418.19 L253.98,420.71 L251.39,423.15 L248.73,425.51 L246.00,427.79 L243.20,429.99 L240.34,432.11 L237.42,434.14 L234.44,436.09 L231.40,437.94 L228.31,439.70 L225.17,441.37 L221.97,442.95 L218.74,444.43 L215.46,445.82 L212.14,447.11 L208.79,448.29 L205.40,449.38 L201.98,450.37 L198.53,451.26 L195.06,452.04 L191.57,452.72 L188.06,453.29 L184.53,453.77 L180.99,454.13 L177.44,454.39 L173.89,454.55 L170.33,454.60 L166.77,454.55 L163.21,454.38 L159.66,454.12 L156.12,453.75 L152.60,453.27 L149.09,452.69 L145.59,452.01 L142.12,451.22 Z" fill="#989ba4"/>
<path d="M170.40,334.60 L142.12,451.22 L137.84,450.10 L133.60,448.82 L129.41,447.38 L125.27,445.79 L121.20,444.05 L117.20,442.16 L113.26,440.12 L109.41,437.94 L105.64,435.62 L101.95,433.16 L98.36,430.57 L94.87,427.85 L91.48,425.00 L88.20,422.02 L85.03,418.93 L81.97,415.72 L79.04,412.40 L76.23,408.98 L73.55,405.45 L71.00,401.83 L68.59,398.11 L66.31,394.31 L64.18,390.43 L62.19,386.47 L60.35,382.45 L58.66,378.35 L57.12,374.20 L55.74,369.99 L54.51,365.74 L53.44,361.44 L52.53,357.10 L51.78,352.74 L51.19,348.35 L50.76,343.94 L50.50,339.52 L50.40,335.09 L50.46,330.66 L50.69,326.24 L51.08,321.83 L51.63,317.43 Z" fill="#187d6b"/>
<path d="M170.40,334.60 L51.63,317.43 L52.32,313.20 L53.16,309.00 L54.15,304.83 L55.29,300.70 L56.57,296.61 L58.00,292.57 L59.57,288.58 L61.29,284.65 L63.14,280.79 L65.13,277.00 L67.25,273.27 L69.51,269.63 L71.89,266.07 L74.40,262.59 L77.04,259.21 L79.79,255.93 L82.65,252.74 L85.63,249.66 L88.72,246.69 L91.91,243.83 L95.20,241.08 L98.59,238.46 L102.07,235.96 L105.63,233.58 L109.28,231.33 L113.01,229.21 L116.81,227.23 L120.68,225.39 L124.61,223.68 L128.60,222.12 L132.64,220.70 L136.73,219.42 L140.86,218.29 L145.04,217.31 L149.24,216.48 L153.47,215.80 L157.72,215.27 L161.99,214.89 L166.27,214.67 L170.56,214.60 Z" fill="#7a8392"/>
<ellipse cx="170.40" cy="340.40" rx="71.40" ry="67.80" fill="url(#holeg)"/>
</g>
<line x1="170.5" y1="259" x2="170.5" y2="273" stroke="#ffffff" stroke-opacity="0.55" stroke-width="1.2"/>
<line x1="170.50" y1="258.00" x2="170.50" y2="224.20" stroke="#ffffff" stroke-width="3"/>
<line x1="233.40" y1="379.80" x2="268.90" y2="404.60" stroke="#ffffff" stroke-width="3"/>
<line x1="152.70" y1="407.60" x2="145.20" y2="453.60" stroke="#ffffff" stroke-width="3"/>
<line x1="95.00" y1="323.70" x2="53.50" y2="321.70" stroke="#ffffff" stroke-width="3"/>
<circle cx="54.3" cy="519.2" r="4.4" fill="#2a9d86"/>
<circle cx="54.3" cy="555.6" r="4.4" fill="#1e3fa0"/>
<circle cx="54.3" cy="593.1" r="4.5" fill="#a4a6ac"/>
<path d="M90.5,726.5 L259.4,726.5 Q262.4,726.5 262.4,729.5 L262.4,765.5 Q262.4,768.5 259.4,768.5 L90.5,768.5 Z" fill="#4ba689"/>
<path d="M90.5,786.3 L247,786.3 Q250,786.3 250,789.3 L250,823.5 Q250,826.5 247,826.5 L90.5,826.5 Z" fill="#1d45a7"/>
<g fill="#4aa587" transform="translate(48.45 724.98) scale(0.6530 0.7500)">
<path d="M17,40 C15,30 15.5,18 21.5,12.5 C25,9.8 29,8.7 33.5,8.7 C38,8.7 42,10.2 45,13.5 C49.5,19 50.5,30 48.5,40 C47.8,42.6 45,43.4 41.5,42.6 L24.5,42.6 C21,43.4 17.8,42.6 17,40 Z"/>
<path d="M8.5,55 C8.5,49.5 13,46.2 24,42.4 L42,42.4 C53,46.2 57.5,49.5 57.5,55 C57.5,56.4 56.6,57.2 55,57.2 L11,57.2 C9.4,57.2 8.5,56.4 8.5,55 Z"/>
<path fill="#fff" d="M21.3,27 C28,26.6 35,23.5 38.8,18.8 C40.8,21.5 42.6,24.4 43.8,27 C43.2,33 38.6,37.6 33,37.6 C27.4,37.6 22.6,33 21.3,27 Z"/>
<path fill="#fff" d="M27.5,38.2 C29.5,39.3 31.2,39.7 33,39.7 C34.8,39.7 36.5,39.3 38.5,38.2 L39.5,42.4 L41.2,42.6 L33,49.6 L24.8,42.6 L26.5,42.4 Z"/>
</g>
<g fill="#1f43a8" transform="translate(48.25 784.35) scale(0.6600 0.7390)">
<path d="M19.6,24 C18.5,14 24.5,9 32.3,9 C40.5,9 46.5,14 45.3,24.5 C47.3,25 47.6,27.5 47,29.5 C46.5,31.5 45.5,32.8 44,33 C42,38.5 37.5,41.6 32.3,41.6 C27,41.6 22.6,38.5 20.6,33 C19,32.8 18,31.5 17.6,29.5 C17,27.5 17.5,25 19.6,24 Z"/>
<path fill="#fff" d="M21.6,25.2 C28,24.8 35.5,22.3 40.2,17.4 C41.8,19.8 42.8,22.6 43.1,25.4 C43.4,27.8 43,31.5 41.2,34.5 C39.3,37.6 36,39.6 32.3,39.6 C28.6,39.6 25.3,37.6 23.4,34.5 C21.6,31.5 21.2,28 21.6,25.2 Z"/>
<path d="M7.5,54.5 C7.5,49 12.5,45.6 25,41.4 C26.5,44.8 29.3,46.6 32.5,46.6 C35.7,46.6 38.5,44.8 40,41.4 C52.5,45.6 58,49 58,54.5 C58,56 57,56.8 55.5,56.8 L10,56.8 C8.5,56.8 7.5,56 7.5,54.5 Z"/>
<path d="M40.3,17.6 L43.2,13.8" stroke="#fff" stroke-width="1" fill="none" opacity="0.9"/>
</g>
<defs><radialGradient id="cg" cx="50%" cy="40%" r="60%"><stop offset="0" stop-color="#f6f6f8"/><stop offset="1" stop-color="#efeff2"/></radialGradient></defs>
<circle cx="428.7" cy="301.6" r="58" fill="url(#cg)"/>
<circle cx="566.0" cy="301.6" r="58" fill="url(#cg)"/>
<circle cx="432.0" cy="600.6" r="58" fill="url(#cg)"/>
<circle cx="571.0" cy="600.6" r="58" fill="url(#cg)"/>
<line x1="497.5" y1="363" x2="497.5" y2="428" stroke="#dcdde3" stroke-width="1"/>
<line x1="496.5" y1="655" x2="496.5" y2="722" stroke="#dcdde3" stroke-width="1"/>

<defs>
<linearGradient id="capb" x1="0" y1="0" x2="1" y2="1"><stop offset="0" stop-color="#37ad95"/><stop offset="1" stop-color="#24957e"/></linearGradient>
<linearGradient id="bowl" x1="0" y1="0" x2="1" y2="0"><stop offset="0" stop-color="#2a9a83"/><stop offset="1" stop-color="#1b7f6b"/></linearGradient>
</defs>
<path d="M406.1,284 L449.6,284 L449.6,297 C449.6,302 440,305.8 428,305.8 C416,305.8 406.1,302 406.1,297 Z" fill="url(#bowl)"/>
<path d="M406.1,285.2 L428.2,293.4 L449.6,286.2" stroke="#fff" stroke-width="1.6" fill="none"/>
<path d="M392.5,275.3 L428,262.2 C429,261.8 430,261.8 431,262.2 L465,275.2 C467.2,276 467.2,277.2 465,278 L430,291.2 C429,291.6 428,291.6 427,291.2 L392.5,277.8 C390.3,277 390.3,276.1 392.5,275.3 Z" fill="url(#capb)"/>
<path d="M431,275.6 L454.4,281.6 L454.9,289.5" stroke="#d9efe9" stroke-width="0.9" fill="none"/>
<circle cx="429.4" cy="275.1" r="2.1" fill="#2aa08a" stroke="#f2fbf8" stroke-width="1"/>
<path d="M453.8,289 L456.2,289 L459.2,306.5 C459.2,307.2 458.7,307.5 458,307.5 L452.6,307.5 C451.9,307.5 451.5,307.2 451.5,306.5 Z" fill="#2a9b85"/>


<defs><linearGradient id="tb" x1="0" y1="0" x2="0" y2="1"><stop offset="0" stop-color="#30aa91"/><stop offset="1" stop-color="#22947c"/></linearGradient></defs>
<path d="M549,289.9 C553,289.2 557,287.2 561,284.2 C565,281.2 569,277 572.2,271.5 L571,267.2 L582.6,260.8 L587.2,274.2 L579.2,273.3 C575.5,279.5 570.5,284.5 564.5,287.5 C559.5,290 554.5,290.8 549,289.9 Z" fill="#f1c21b"/>
<rect x="568.9" y="285.9" width="15" height="10" rx="0.8" fill="#2e9f89"/>
<rect x="587" y="276.9" width="15.1" height="35.9" rx="0.8" fill="url(#tb)"/>
<path d="M587,304 L602.1,291.7 L602.1,312 C602.1,312.5 601.7,312.8 601.2,312.8 L587.8,312.8 C587.3,312.8 587,312.5 587,312 Z" fill="#1b8670"/>
<rect x="528.9" y="291.7" width="54.7" height="20.3" rx="0.8" fill="#3aad70"/>
<rect x="530.8" y="293.6" width="50.9" height="16.5" fill="#8fdfa8"/>
<path d="M537,301.8 C540,296.2 547,293.8 556.2,293.8 C565.4,293.8 572.4,296.2 575.4,301.8 C572.4,307.4 565.4,309.8 556.2,309.8 C547,309.8 540,307.4 537,301.8 Z" fill="#52b87d"/>
<circle cx="556.2" cy="301.6" r="8.8" fill="#9de6b4"/>
<text x="556.2" y="306.4" text-anchor="middle" font-family="Liberation Sans" font-weight="400" font-size="13.5" fill="#2a9458" stroke="#2a9458" stroke-width="0.4">$</text>

<g fill="#2aa68e" transform="translate(400.00 550.00) scale(1.0000 1.0000)">
<path d="M17,40 C15,30 15.5,18 21.5,12.5 C25,9.8 29,8.7 33.5,8.7 C38,8.7 42,10.2 45,13.5 C49.5,19 50.5,30 48.5,40 C47.8,42.6 45,43.4 41.5,42.6 L24.5,42.6 C21,43.4 17.8,42.6 17,40 Z"/>
<path d="M8.5,55 C8.5,49.5 13,46.2 24,42.4 L42,42.4 C53,46.2 57.5,49.5 57.5,55 C57.5,56.4 56.6,57.2 55,57.2 L11,57.2 C9.4,57.2 8.5,56.4 8.5,55 Z"/>
<path fill="#fff" d="M21.3,27 C28,26.6 35,23.5 38.8,18.8 C40.8,21.5 42.6,24.4 43.8,27 C43.2,33 38.6,37.6 33,37.6 C27.4,37.6 22.6,33 21.3,27 Z"/>
<path fill="#fff" d="M27.5,38.2 C29.5,39.3 31.2,39.7 33,39.7 C34.8,39.7 36.5,39.3 38.5,38.2 L39.5,42.4 L41.2,42.6 L33,49.6 L24.8,42.6 L26.5,42.4 Z"/>
</g>
<g fill="#1b45a8" transform="translate(540.00 550.00) scale(1.0000 1.0000)">
<path d="M19.6,24 C18.5,14 24.5,9 32.3,9 C40.5,9 46.5,14 45.3,24.5 C47.3,25 47.6,27.5 47,29.5 C46.5,31.5 45.5,32.8 44,33 C42,38.5 37.5,41.6 32.3,41.6 C27,41.6 22.6,38.5 20.6,33 C19,32.8 18,31.5 17.6,29.5 C17,27.5 17.5,25 19.6,24 Z"/>
<path fill="#fff" d="M21.6,25.2 C28,24.8 35.5,22.3 40.2,17.4 C41.8,19.8 42.8,22.6 43.1,25.4 C43.4,27.8 43,31.5 41.2,34.5 C39.3,37.6 36,39.6 32.3,39.6 C28.6,39.6 25.3,37.6 23.4,34.5 C21.6,31.5 21.2,28 21.6,25.2 Z"/>
<path d="M7.5,54.5 C7.5,49 12.5,45.6 25,41.4 C26.5,44.8 29.3,46.6 32.5,46.6 C35.7,46.6 38.5,44.8 40,41.4 C52.5,45.6 58,49 58,54.5 C58,56 57,56.8 55.5,56.8 L10,56.8 C8.5,56.8 7.5,56 7.5,54.5 Z"/>
<path d="M40.3,17.6 L43.2,13.8" stroke="#fff" stroke-width="1" fill="none" opacity="0.9"/>
</g>
<circle cx="374.1" cy="819.1" r="6" fill="#237f6e"/>
<path d="M370.9,819.70 L372.9,821.50 L377.6,817.30" stroke="#fff" stroke-width="1.35" fill="none" stroke-linecap="round" stroke-linejoin="round"/>
<circle cx="374.1" cy="868.5" r="6" fill="#237f6e"/>
<path d="M370.9,869.10 L372.9,870.90 L377.6,866.70" stroke="#fff" stroke-width="1.35" fill="none" stroke-linecap="round" stroke-linejoin="round"/>
<circle cx="374.1" cy="899.2" r="6" fill="#237f6e"/>
<path d="M370.9,899.80 L372.9,901.60 L377.6,897.40" stroke="#fff" stroke-width="1.35" fill="none" stroke-linecap="round" stroke-linejoin="round"/>
</svg>
<div id="t1a" class="t" style="left:124.17px;top:46.28px;font-size:31.80px;font-weight:700;color:#2c3654;transform:scaleX(0.9335);">Radiograf&iacute;a</div>
<div id="t1b" class="t" style="left:296.89px;top:46.28px;font-size:31.80px;font-weight:700;color:#2c3654;transform:scaleX(0.9357);">del</div>
<div id="t1c" class="t" style="left:346.51px;top:46.28px;font-size:31.80px;font-weight:700;color:#2c3654;transform:scaleX(0.9066);">Oyente</div>
<div id="t1d" class="t" style="left:453.33px;top:46.28px;font-size:31.80px;font-weight:700;color:#2c3654;transform:scaleX(0.9029);">de</div>
<div id="t1e" class="t" style="left:495.30px;top:46.28px;font-size:31.80px;font-weight:700;color:#2c3654;transform:scaleX(0.8496);">Podcast</div>
<div id="t2" class="t" style="left:181.03px;top:86.16px;font-size:31.00px;font-weight:400;color:#2c3654;transform:scaleX(0.9379);-webkit-text-stroke:1.05px #2c3654;">en Rep&uacute;blica Dominicana</div>
<div id="c1h" class="t" style="left:50.06px;top:174.48px;font-size:22.00px;font-weight:400;color:#2c3654;transform:scaleX(0.9632);-webkit-text-stroke:0.75px #2c3654;">Una Audiencia Joven</div>
<div id="d68" class="t" style="left:122.41px;top:302.75px;font-size:35.50px;font-weight:700;color:#262c4c;transform:scaleX(0.9714);">68<span style="font-weight:400;-webkit-text-stroke:0.8px #262c4c">%</span></div>
<div id="dtm" class="t" style="left:120.79px;top:341.19px;font-size:19.50px;font-weight:400;color:#2a3352;transform:scaleX(0.9676);">tiene menos</div>
<div id="d35" class="t" style="left:120.83px;top:361.99px;font-size:19.50px;font-weight:400;color:#2a3352;transform:scaleX(0.9418);">de <b>35 a&ntilde;os</b></div>
<div id="d37" class="t" style="left:97.00px;top:402.62px;font-size:21.00px;font-weight:400;color:#ffffff;transform:scaleX(0.9762);-webkit-text-stroke:0.5px #fff;">37%</div>
<div id="d35p" class="t" style="left:172.42px;top:413.80px;font-size:21.50px;font-weight:400;color:#ffffff;transform:scaleX(0.9549);-webkit-text-stroke:0.55px #fff;">35+<span style="font-size:0.68em;-webkit-text-stroke:0.2px #fff"> a&ntilde;os</span></div>
<div id="lg1" class="t" style="left:67.01px;top:508.29px;font-size:19.50px;font-weight:400;color:#2c3654;transform:scaleX(0.9836);"><b>Gen Z</b> (18-24)</div>
<div id="lg1p" class="t" style="left:201.00px;top:504.86px;font-size:24.50px;font-weight:400;color:#23856b;transform:scaleX(0.9857);-webkit-text-stroke:0.9px #23856b;">37%</div>
<div id="lg2" class="t" style="left:66.58px;top:544.99px;font-size:19.50px;font-weight:400;color:#2c3654;transform:scaleX(1.0120);"><b>Millennials</b> (25-34)</div>
<div id="lg2p" class="t" style="left:249.03px;top:541.86px;font-size:24.50px;font-weight:400;color:#1e3fa6;transform:scaleX(0.9354);-webkit-text-stroke:0.9px #1e3fa6;">31%</div>
<div id="lg3" class="t" style="left:67.56px;top:583.81px;font-size:17.00px;font-weight:400;color:#3d4458;transform:scaleX(1.0464);">35+ a&ntilde;os</div>
<div id="c2h1" class="t" style="left:50.21px;top:656.49px;font-size:19.50px;font-weight:700;color:#2c3654;transform:scaleX(0.9869);">Audiencia Balanceada</div>
<div id="c2h2" class="t" style="left:51.39px;top:682.99px;font-size:19.50px;font-weight:400;color:#2c3654;transform:scaleX(0.9917);-webkit-text-stroke:0.3px #2c3654;">con Ligera <b>Mayor&iacute;a Femenina</b></div>
<div id="b1p" class="t" style="left:269.75px;top:737.70px;font-size:21.50px;font-weight:400;color:#3a9a7c;transform:scaleX(1.0667);-webkit-text-stroke:0.6px #3a9a7c;">53%</div>
<div id="b2p" class="t" style="left:258.00px;top:797.30px;font-size:21.50px;font-weight:700;color:#1e3fa0;transform:scaleX(1.0860);">47%</div>
<div id="b1n" class="t" style="left:101.49px;top:737.23px;font-size:23.00px;font-weight:400;color:#ffffff;transform:scaleX(1.1452);-webkit-text-stroke:0.5px #fff;">2.4</div>
<div id="b1m" class="t" style="left:142.27px;top:740.19px;font-size:19.50px;font-weight:700;color:#ffffff;transform:scaleX(0.9462);">mil</div>
<div id="b2n" class="t" style="left:101.67px;top:795.03px;font-size:23.00px;font-weight:400;color:#ffffff;transform:scaleX(0.8968);-webkit-text-stroke:0.5px #fff;">2.1</div>
<div id="b2m" class="t" style="left:135.42px;top:797.99px;font-size:19.50px;font-weight:700;color:#ffffff;transform:scaleX(0.9615);">mil</div>
<div id="m24n" class="t" style="left:397.45px;top:614.59px;font-size:26.00px;font-weight:700;color:#1f7f6a;transform:scaleX(1.2083);">2.4</div>
<div id="m24m" class="t" style="left:443.45px;top:615.86px;font-size:24.50px;font-weight:700;color:#1f7f6a;transform:scaleX(1.2105);">m</div>
<div id="m21n" class="t" style="left:537.14px;top:613.99px;font-size:26.00px;font-weight:700;color:#1e3fa5;transform:scaleX(1.1371);">2.1</div>
<div id="m21m" class="t" style="left:580.45px;top:615.26px;font-size:24.50px;font-weight:700;color:#1e3fa5;transform:scaleX(1.2105);">m</div>
<div id="c3h1" class="t" style="left:368.38px;top:175.89px;font-size:19.50px;font-weight:700;color:#2c3654;transform:scaleX(1.0081);">Educada y con</div>
<div id="c3h2" class="t" style="left:368.41px;top:203.59px;font-size:19.50px;font-weight:700;color:#2c3654;transform:scaleX(0.9692);">Capacidad <span style="font-weight:400">de</span> Gasto</div>
<div id="p52" class="t" style="left:394.85px;top:315.22px;font-size:34.00px;font-weight:700;color:#1c7a66;transform:scaleX(0.9636);">52<span style="font-weight:400;-webkit-text-stroke:0.7px #1c7a66">%</span></div>
<div id="p26" class="t" style="left:534.20px;top:316.22px;font-size:34.00px;font-weight:700;color:#1d43a8;transform:scaleX(0.9939);">26<span style="font-weight:400;-webkit-text-stroke:0.7px #1d43a8">%</span></div>
<div id="cap1a" class="t" style="left:380.34px;top:379.37px;font-size:20.00px;font-weight:400;color:#2c3654;transform:scaleX(1.0333);">Con t&iacute;tulo</div>
<div id="cap1b" class="t" style="left:368.37px;top:401.47px;font-size:20.00px;font-weight:400;color:#2c3654;transform:scaleX(1.0274);">universitario</div>
<div id="cap2a" class="t" style="left:525.61px;top:379.37px;font-size:20.00px;font-weight:400;color:#2c3654;transform:scaleX(0.9919);">Ingresos</div>
<div id="cap2b" class="t" style="left:508.05px;top:403.16px;font-size:18.00px;font-weight:400;color:#2c3654;transform:scaleX(0.9543);">&gt; <b>RD$100k</b>/mes</div>
<div id="c4h1" class="t" style="left:367.39px;top:475.99px;font-size:19.50px;font-weight:700;color:#2c3654;transform:scaleX(0.9913);">Audiencia Balanceada</div>
<div id="c4h2" class="t" style="left:367.41px;top:502.49px;font-size:19.50px;font-weight:400;color:#2c3654;transform:scaleX(0.9712);-webkit-text-stroke:0.35px #2c3654;">con <b>Ligera Mayor&iacute;a Femenina</b></div>
<div id="m53" class="t" style="left:415.89px;top:643.80px;font-size:15.00px;font-weight:700;color:#1f7f6a;transform:scaleX(1.1138);">53%</div>
<div id="m47" class="t" style="left:555.35px;top:643.00px;font-size:15.00px;font-weight:700;color:#1e3fa5;transform:scaleX(1.1138);">47%</div>
<div id="cap3a" class="t" style="left:389.56px;top:680.07px;font-size:20.00px;font-weight:400;color:#2c3654;transform:scaleX(1.0275);">Mujeres</div>
<div id="cap3b" class="t" style="left:369.58px;top:703.49px;font-size:17.50px;font-weight:400;color:#2c3654;transform:scaleX(1.0245);">uriversicitario</div>
<div id="cap4a" class="t" style="left:528.40px;top:680.07px;font-size:20.00px;font-weight:700;color:#2c3654;transform:scaleX(0.9905);">Hombres</div>
<div id="cap4b" class="t" style="left:519.33px;top:703.49px;font-size:17.50px;font-weight:400;color:#2c3654;transform:scaleX(1.0402);">uriversitarcio</div>
<div id="c5h" class="t" style="left:365.47px;top:768.77px;font-size:20.00px;font-weight:700;color:#2c3654;transform:scaleX(0.8975);">&iquest;Por qu&eacute; este perfil es clave?</div>
<div id="l1a" class="t" style="left:387.79px;top:808.66px;font-size:16.00px;font-weight:400;color:#2c3654;transform:scaleX(1.0250);">Audiencia joven y digitalmente</div>
<div id="l1b" class="t" style="left:387.18px;top:829.36px;font-size:16.00px;font-weight:400;color:#2c3654;transform:scaleX(1.0289);">nativa.</div>
<div id="l2" class="t" style="left:387.79px;top:858.96px;font-size:16.00px;font-weight:400;color:#2c3654;transform:scaleX(0.9852);">Alto poder de decisi&oacute;n y consumo.</div>
<div id="l3a" class="t" style="left:386.80px;top:888.96px;font-size:16.00px;font-weight:400;color:#2c3654;transform:scaleX(0.9888);">Demanda creciente de contenido</div>
<div id="l3b" class="t" style="left:386.84px;top:909.46px;font-size:16.00px;font-weight:400;color:#2c3654;transform:scaleX(0.9560);">de calidad.</div>
</body></html>
